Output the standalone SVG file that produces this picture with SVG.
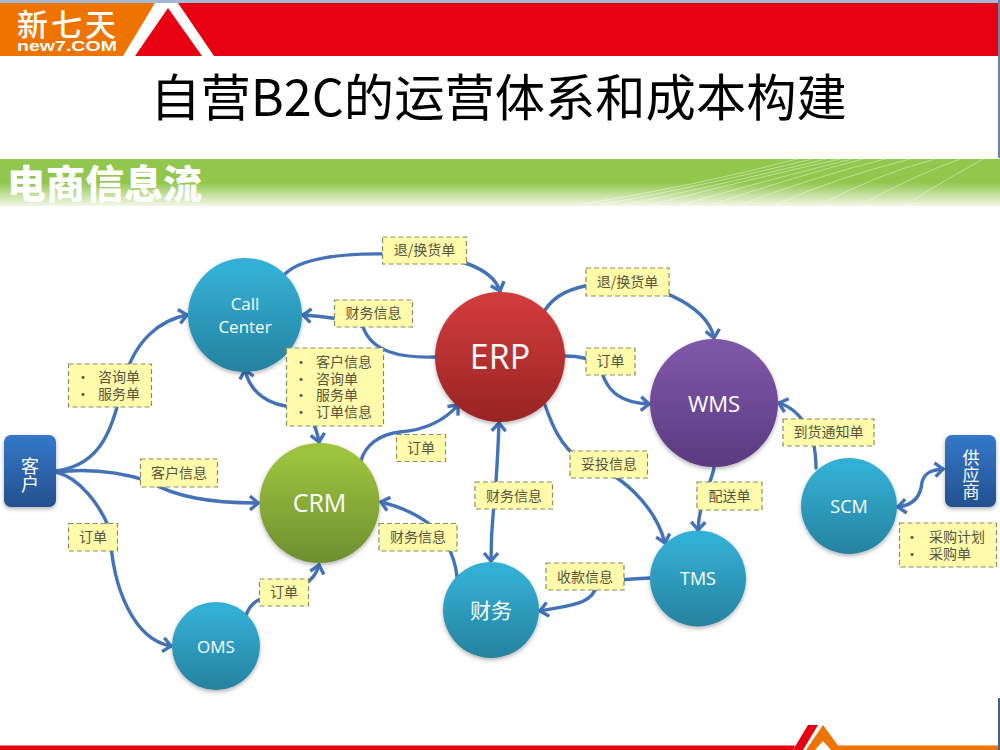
<svg xmlns="http://www.w3.org/2000/svg" width="1000" height="750" viewBox="0 0 1000 750">
<style>
.cn{font-family:"Noto Sans CJK SC","Noto Sans",sans-serif}
.lb rect{fill:#fffbab;stroke:#8c8c62;stroke-width:1.2;stroke-dasharray:5 3}
.lb text{font-family:"Noto Sans CJK SC",sans-serif;font-size:14px;fill:#55553f}
.lb text.m{text-anchor:middle}
.nd text{font-family:"Open Sans","Noto Sans CJK SC",sans-serif;fill:#fff;text-anchor:middle}
.nd text.v{font-family:"Noto Sans CJK SC",sans-serif;writing-mode:vertical-rl}
.nd circle,.nd rect{filter:url(#sh)}
#connectors path{fill:none;stroke:#4472b8;stroke-width:3.4;stroke-linecap:round;marker-end:url(#a)}
#connectors path.b{marker-start:url(#a)}
#rays path{fill:none;stroke:#fff;stroke-width:1;opacity:.4}
</style>
<defs>
<marker id="a" markerUnits="userSpaceOnUse" markerWidth="24" markerHeight="24" refX="13" refY="12" orient="auto-start-reverse">
<path d="M5 5L13 12L5 19" fill="none" stroke="#4472b8" stroke-width="3.400"/>
</marker>
<filter id="sh" x="-15%" y="-15%" width="130%" height="135%"><feDropShadow dx="0" dy="2" stdDeviation="2" flood-color="#000" flood-opacity=".3"/></filter>
<linearGradient id="gT" x1="0" y1="0" x2="0" y2="1"><stop offset=".1" stop-color="#33afd4"/><stop offset="1" stop-color="#26829f"/></linearGradient>
<linearGradient id="gR" x1="0" y1="0" x2="0" y2="1"><stop offset=".1" stop-color="#cf3a3a"/><stop offset="1" stop-color="#982424"/></linearGradient>
<linearGradient id="gP" x1="0" y1="0" x2="0" y2="1"><stop offset=".1" stop-color="#7e56a8"/><stop offset="1" stop-color="#5a3a80"/></linearGradient>
<linearGradient id="gG" x1="0" y1="0" x2="0" y2="1"><stop offset=".1" stop-color="#9dc33e"/><stop offset="1" stop-color="#6e8e30"/></linearGradient>
<linearGradient id="gB" x1="0" y1="0" x2="0" y2="1"><stop offset="0" stop-color="#3479c9"/><stop offset="1" stop-color="#24508f"/></linearGradient>
<linearGradient id="gBand" x1="0" y1="0" x2="0" y2="1"><stop offset=".5" stop-color="#92c74e"/><stop offset="1" stop-color="#f2f8e8"/></linearGradient>
</defs>
<rect width="1000" height="750" fill="#fff"/>
<rect width="1000" height="3" fill="#a3b9d8"/>
<rect x="998" y="0" width="2" height="158" fill="#6b84a8"/>
<rect x="998" y="698" width="2" height="52" fill="#46628a"/>
<polygon points="0,3 155,3 123,56 0,56" fill="#ef7300"/>
<polygon points="168,8 202,56 135,56" fill="#e60012"/>
<polygon points="178,3 998,3 998,56 214,56" fill="#e60012"/>
<text x="17" y="36" class="cn" font-size="31" font-weight="500" fill="#fff" textLength="99">新七天</text>
<text x="17" y="51" font-family="Liberation Sans,sans-serif" font-size="15" font-weight="700" fill="#fff" textLength="100" lengthAdjust="spacingAndGlyphs">new7.COM</text>
<text x="498.500" y="116" class="cn" font-size="50.300" fill="#000" text-anchor="middle">自营B2C的运营体系和成本构建</text>
<rect x="0" y="159" width="1000" height="47" fill="url(#gBand)"/>
<g id="rays">
<path d="M577 205Q700 185 797 159M600 205Q720 182 812 159M625 205Q740 180 826 159M650 205Q755 178 840 159M680 205Q775 178 852 159M710 205Q790 178 863 159M740 205Q810 178 885 159M775 205Q835 178 910 159M820 205Q875 175 935 159M860 205Q915 175 960 159M905 205Q945 180 983 159"/>
</g>
<text x="7" y="198" class="cn" font-size="39" font-weight="900" fill="#fff">电商信息流</text>
<polygon points="0,745.500 795,745.500 793,750 0,750" fill="#e60012"/>
<polygon points="808,725 818,725 803,750 793,750" fill="#e60012"/>
<path d="M823 725L838 745.500H998V750H831L823 741L815 750H806Z" fill="#ef7300"/>
<g id="connectors">
<path d="M56 471C104 465 113 425 124 380C135 340 160 320 187 315"/>
<path d="M56 472C90 468 120 472 148 481C175 497 210 503 258 503"/>
<path d="M56 472C80 478 100 505 110 530C112 590 135 640 171 646"/>
<path d="M284 275C300 258 340 253 390 254C440 254 490 262 500 291"/>
<path d="M435 357C400 358 372 352 363 327C345 318 325 317 303 315"/>
<path class="b" d="M245 370C250 392 268 406 295 407C308 408 316 425 319 442"/>
<path d="M361 461C365 445 380 434 400 432C425 430 445 420 458 405"/>
<path d="M545 310C555 295 570 288 595 284C650 278 708 305 714 338"/>
<path d="M565 356C575 356 590 358 600 365C606 395 625 403 649 404"/>
<path d="M816 468C816 460 815 450 813 440C805 420 795 408 779 403"/>
<path class="b" d="M898 507C915 505 921 495 922 482C925 472 932 470 943 469"/>
<path d="M714 467C713 480 699 500 698 530"/>
<path d="M545 405C552 425 560 445 580 460C620 472 655 505 665 543"/>
<path class="b" d="M499 423C498 450 497 470 495 495C492 520 491 540 491 561"/>
<path d="M457 577C456 565 453 555 445 540C430 520 405 508 381 502"/>
<path d="M246 615C250 605 255 600 270 595C295 590 314 585 319 565"/>
<path d="M650 578C630 579 610 580 597 585C592 605 570 605 540 611"/>
</g>
<g id="node-callcenter" class="nd"><circle cx="245" cy="315" r="57" fill="url(#gT)"/><text font-size="17"><tspan x="245" y="310">Call</tspan><tspan x="245" y="333">Center</tspan></text></g>
<g id="node-erp" class="nd"><circle cx="500" cy="357" r="65" fill="url(#gR)"/><text x="500" y="369" font-size="34">ERP</text></g>
<g id="node-wms" class="nd"><circle cx="714" cy="403" r="64" fill="url(#gP)"/><text x="714" y="412" font-size="22">WMS</text></g>
<g id="node-crm" class="nd"><circle cx="319.500" cy="503" r="60" fill="url(#gG)"/><text x="319.500" y="512" font-size="25">CRM</text></g>
<g id="node-oms" class="nd"><circle cx="216" cy="646" r="44" fill="url(#gT)"/><text x="216" y="653" font-size="17">OMS</text></g>
<g id="node-finance" class="nd"><circle cx="491" cy="610" r="48" fill="url(#gT)"/><text x="491" y="618" font-size="21">财务</text></g>
<g id="node-tms" class="nd"><circle cx="698" cy="578.500" r="48" fill="url(#gT)"/><text x="698" y="585" font-size="18">TMS</text></g>
<g id="node-scm" class="nd"><circle cx="849" cy="506" r="48" fill="url(#gT)"/><text x="849" y="513" font-size="18">SCM</text></g>
<g id="node-customer" class="nd"><rect x="4" y="435" width="52" height="72" rx="7" fill="url(#gB)"/><text class="v" x="30" y="475" font-size="18">客户</text></g>
<g id="node-supplier" class="nd"><rect x="945" y="435" width="51" height="72" rx="7" fill="url(#gB)"/><text class="v" x="971" y="475" font-size="17">供应商</text></g>
<g id="label-return1" class="lb"><rect x="382.500" y="237" width="84" height="27"/><text class="m" x="424.500" y="255">退/换货单</text></g>
<g id="label-fin1" class="lb"><rect x="334.500" y="300" width="78" height="27"/><text class="m" x="373.500" y="318">财务信息</text></g>
<g id="label-list1" class="lb"><rect x="286.500" y="348" width="97" height="78"/><text><tspan x="294" y="367">•</tspan><tspan x="316" y="367">客户信息</tspan><tspan x="294" y="384">•</tspan><tspan x="316" y="384">咨询单</tspan><tspan x="294" y="400">•</tspan><tspan x="316" y="400">服务单</tspan><tspan x="294" y="417">•</tspan><tspan x="316" y="417">订单信息</tspan></text></g>
<g id="label-list2" class="lb"><rect x="68.500" y="364" width="83" height="43"/><text><tspan x="76" y="382">•</tspan><tspan x="98" y="382">咨询单</tspan><tspan x="76" y="399">•</tspan><tspan x="98" y="399">服务单</tspan></text></g>
<g id="label-cinfo" class="lb"><rect x="140.500" y="459" width="77" height="28"/><text class="m" x="179" y="478">客户信息</text></g>
<g id="label-order1" class="lb"><rect x="396.500" y="434.500" width="49" height="27"/><text class="m" x="421" y="453">订单</text></g>
<g id="label-return2" class="lb"><rect x="586" y="268" width="83" height="28"/><text class="m" x="627.500" y="287">退/换货单</text></g>
<g id="label-order2" class="lb"><rect x="586" y="348" width="49" height="27"/><text class="m" x="610.500" y="366">订单</text></g>
<g id="label-arrive" class="lb"><rect x="783" y="419" width="91" height="27"/><text class="m" x="828.500" y="437">到货通知单</text></g>
<g id="label-deliver" class="lb"><rect x="570" y="451" width="77.500" height="27"/><text class="m" x="609" y="469">妥投信息</text></g>
<g id="label-fin2" class="lb"><rect x="475" y="482" width="77.500" height="27"/><text class="m" x="514" y="501">财务信息</text></g>
<g id="label-ship" class="lb"><rect x="697" y="482" width="65" height="28"/><text class="m" x="729.500" y="501">配送单</text></g>
<g id="label-order3" class="lb"><rect x="68.500" y="523.500" width="49" height="27.500"/><text class="m" x="93" y="542">订单</text></g>
<g id="label-fin3" class="lb"><rect x="379" y="523.500" width="78" height="27.500"/><text class="m" x="418" y="542">财务信息</text></g>
<g id="label-order4" class="lb"><rect x="259.500" y="579" width="49" height="27"/><text class="m" x="284" y="597">订单</text></g>
<g id="label-pay" class="lb"><rect x="546" y="563" width="78" height="27"/><text class="m" x="585" y="582">收款信息</text></g>
<g id="label-list3" class="lb"><rect x="899.500" y="523" width="97" height="44"/><text><tspan x="905" y="542">•</tspan><tspan x="929" y="542">采购计划</tspan><tspan x="905" y="559">•</tspan><tspan x="929" y="559">采购单</tspan></text></g>
</svg>
